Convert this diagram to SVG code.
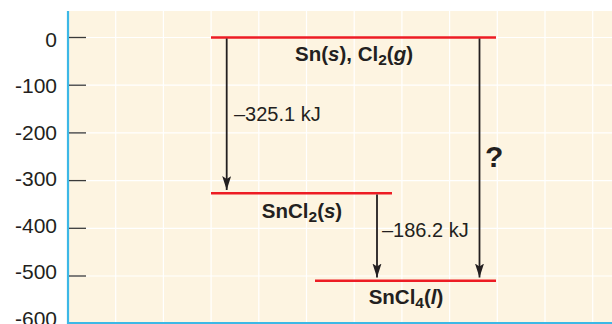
<svg xmlns="http://www.w3.org/2000/svg" width="612" height="324" viewBox="0 0 612 324">
<style>
.grid{stroke:#ffffff;stroke-width:1.2}
.tick{stroke:#3a3a3a;stroke-width:1.3}
.axis{stroke:#3cb8e6;stroke-width:2.2;fill:none}
.level{stroke:#ed1c24;stroke-width:2.6}
.arr{stroke:#231f20;stroke-width:1.8;marker-end:url(#ah)}
.ylab{font-family:"Liberation Sans",Arial,sans-serif;font-size:21px;fill:#231f20;text-anchor:end}
.dh{font-family:"Liberation Sans",Arial,sans-serif;font-size:20px;fill:#231f20}
.sp{font-family:"Liberation Sans",Arial,sans-serif;font-size:20.5px;font-weight:bold;fill:#231f20;text-anchor:middle}
.q{font-family:"Liberation Sans",Arial,sans-serif;font-size:30px;font-weight:bold;fill:#231f20}
</style>
<defs>
<marker id="ah" markerUnits="userSpaceOnUse" markerWidth="16" markerHeight="10" refX="14" refY="4.5" orient="auto">
<path d="M0,0 L14,4.5 L0,9 L3,4.5 z" fill="#231f20"/>
</marker>
</defs>
<rect x="0" y="0" width="612" height="324" fill="#ffffff"/>
<g id="plot">
<rect x="68" y="11" width="544" height="312" fill="#fdf4e1"/>
<g id="gridlines">
<line class="grid" x1="115.7" y1="11" x2="115.7" y2="322"/>
<line class="grid" x1="163.4" y1="11" x2="163.4" y2="322"/>
<line class="grid" x1="211.1" y1="11" x2="211.1" y2="322"/>
<line class="grid" x1="258.8" y1="11" x2="258.8" y2="322"/>
<line class="grid" x1="306.5" y1="11" x2="306.5" y2="322"/>
<line class="grid" x1="354.2" y1="11" x2="354.2" y2="322"/>
<line class="grid" x1="401.9" y1="11" x2="401.9" y2="322"/>
<line class="grid" x1="449.6" y1="11" x2="449.6" y2="322"/>
<line class="grid" x1="497.3" y1="11" x2="497.3" y2="322"/>
<line class="grid" x1="545" y1="11" x2="545" y2="322"/>
<line class="grid" x1="592.7" y1="11" x2="592.7" y2="322"/>
<line class="grid" x1="68" y1="37.5" x2="612" y2="37.5"/>
<line class="grid" x1="68" y1="85.2" x2="612" y2="85.2"/>
<line class="grid" x1="68" y1="132.9" x2="612" y2="132.9"/>
<line class="grid" x1="68" y1="180.6" x2="612" y2="180.6"/>
<line class="grid" x1="68" y1="228.3" x2="612" y2="228.3"/>
<line class="grid" x1="68" y1="276" x2="612" y2="276"/>
</g>
<path class="axis" d="M68,11 V323 H612"/>
<g id="ticks">
<line class="tick" x1="69" y1="37.5" x2="86" y2="37.5"/>
<line class="tick" x1="69" y1="85.2" x2="86" y2="85.2"/>
<line class="tick" x1="69" y1="132.9" x2="86" y2="132.9"/>
<line class="tick" x1="69" y1="180.6" x2="86" y2="180.6"/>
<line class="tick" x1="69" y1="228.3" x2="86" y2="228.3"/>
<line class="tick" x1="69" y1="276" x2="86" y2="276"/>
</g>
<g id="ylabels">
<text class="ylab" x="57" y="46.5">0</text>
<text class="ylab" x="57" y="93">-100</text>
<text class="ylab" x="57" y="139.5">-200</text>
<text class="ylab" x="57" y="186">-300</text>
<text class="ylab" x="57" y="232.5">-400</text>
<text class="ylab" x="57" y="279">-500</text>
<text class="ylab" x="57" y="325.5">-600</text>
</g>
</g>
<g id="level-reactants">
<line class="level" x1="211" y1="37.5" x2="496" y2="37.5"/>
<text class="sp" x="354" y="61">Sn(<tspan font-style="italic">s</tspan>), Cl<tspan font-size="15.5" dy="4">2</tspan><tspan dy="-4">(</tspan><tspan font-style="italic">g</tspan>)</text>
</g>
<g id="level-sncl2">
<line class="level" x1="211" y1="193.2" x2="392" y2="193.2"/>
<text class="sp" x="302" y="217.5">SnCl<tspan font-size="15.5" dy="4">2</tspan><tspan dy="-4">(</tspan><tspan font-style="italic">s</tspan>)</text>
</g>
<g id="level-sncl4">
<line class="level" x1="315" y1="280.8" x2="496" y2="280.8"/>
<text class="sp" x="406" y="303.5">SnCl<tspan font-size="15.5" dy="4">4</tspan><tspan dy="-4">(</tspan><tspan font-style="italic">l</tspan>)</text>
</g>
<g id="connectors">
<line class="arr" x1="226.7" y1="38.5" x2="226.7" y2="190"/>
<line class="arr" x1="377" y1="194.5" x2="377" y2="277.5"/>
<line class="arr" x1="479.5" y1="38.5" x2="479.5" y2="277.5"/>
<text class="dh" x="234" y="121">–325.1 kJ</text>
<text class="dh" x="382" y="236.5">–186.2 kJ</text>
<text class="q" x="485" y="167">?</text>
</g>
</svg>
